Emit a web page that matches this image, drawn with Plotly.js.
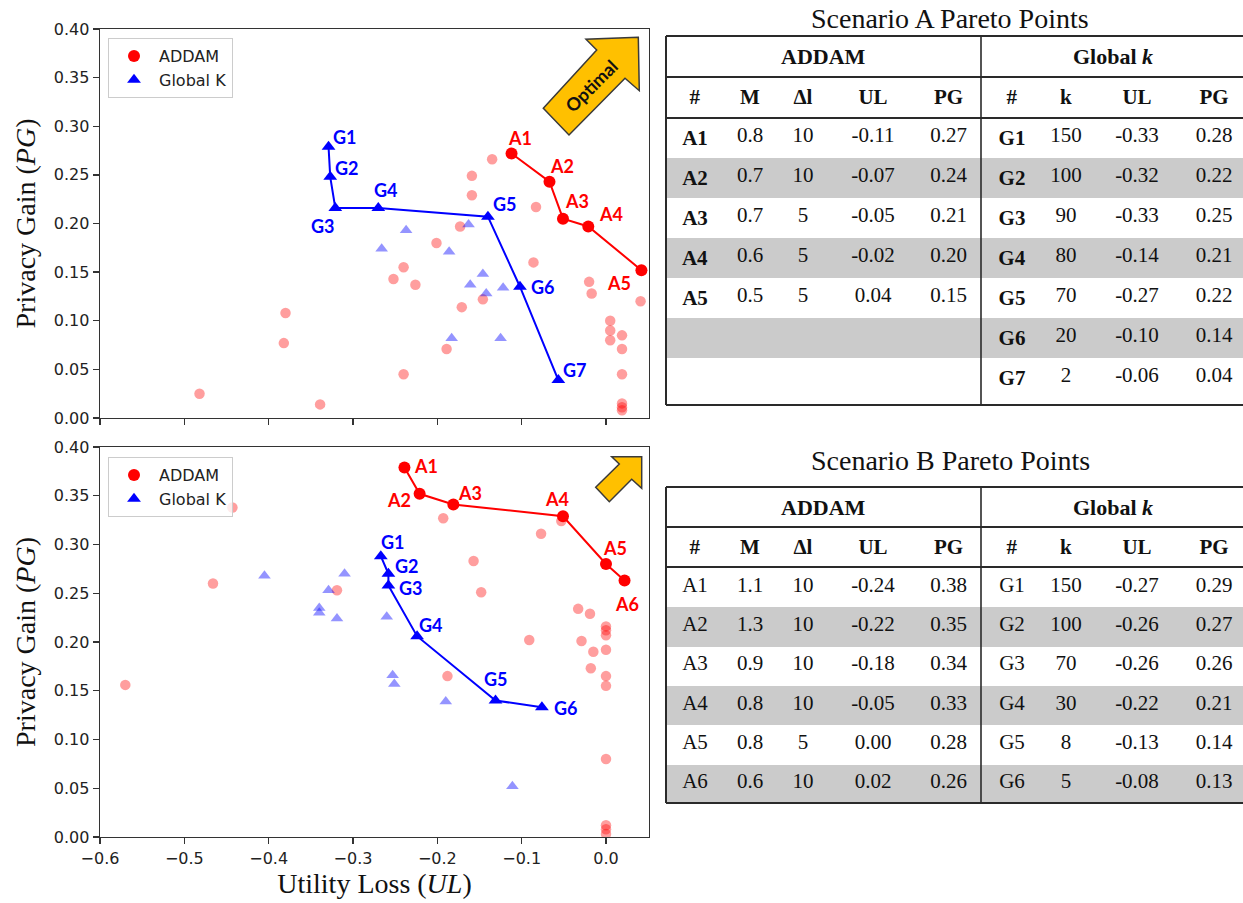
<!DOCTYPE html>
<html><head><meta charset="utf-8">
<script src="https://cdn.plot.ly/plotly-3.0.1.min.js"></script>
<style>html,body{margin:0;padding:0;background:#fff}#chart{width:1243px;height:903px}</style>
</head><body><div id="chart"></div>
<script>
// ---------------- DATA ----------------
// Scenario A (top plot)
const aAddamParetoUL = [-0.112, -0.067, -0.051, -0.021, 0.042];
const aAddamParetoPG = [0.272, 0.243, 0.205, 0.197, 0.152];
const aAddamParetoLbl = ['A1', 'A2', 'A3', 'A4', 'A5'];
const aGlobalParetoUL = [-0.329, -0.327, -0.321, -0.270, -0.140, -0.102, -0.0565];
const aGlobalParetoPG = [0.279, 0.248, 0.216, 0.216, 0.207, 0.135, 0.039];
const aGlobalParetoLbl = ['G1', 'G2', 'G3', 'G4', 'G5', 'G6', 'G7'];
const aAddamAllUL = [-0.482, -0.380, -0.382, -0.339, -0.135, -0.159, -0.159, -0.083, -0.173, -0.201, -0.240, -0.252, -0.226, -0.086, -0.171, -0.146, -0.020, -0.017, 0.041, -0.189, -0.240, 0.005, 0.005, 0.005, 0.019, 0.019, 0.019, 0.019, 0.019, 0.019];
const aAddamAllPG = [0.025, 0.108, 0.077, 0.014, 0.266, 0.249, 0.229, 0.217, 0.197, 0.180, 0.155, 0.143, 0.137, 0.160, 0.114, 0.122, 0.140, 0.128, 0.120, 0.071, 0.045, 0.100, 0.090, 0.080, 0.085, 0.071, 0.045, 0.015, 0.011, 0.008];
const aGlobalAllUL = [-0.237, -0.266, -0.186, -0.163, -0.146, -0.161, -0.142, -0.122, -0.183, -0.125];
const aGlobalAllPG = [0.193, 0.174, 0.171, 0.199, 0.148, 0.137, 0.128, 0.134, 0.082, 0.082];

// Scenario B (bottom plot)
const bAddamParetoUL = [-0.239, -0.221, -0.181, -0.051, 0.000, 0.022];
const bAddamParetoPG = [0.379, 0.352, 0.341, 0.329, 0.280, 0.263];
const bAddamParetoLbl = ['A1', 'A2', 'A3', 'A4', 'A5', 'A6'];
const bGlobalParetoUL = [-0.267, -0.258, -0.258, -0.224, -0.131, -0.076];
const bGlobalParetoPG = [0.288, 0.270, 0.258, 0.206, 0.140, 0.133];
const bGlobalParetoLbl = ['G1', 'G2', 'G3', 'G4', 'G5', 'G6'];
const bAddamAllUL = [-0.570, -0.466, -0.443, -0.319, -0.193, -0.077, -0.053, -0.157, -0.148, -0.033, -0.019, -0.091, -0.029, -0.015, -0.018, -0.188, 0, 0, 0, 0, 0, 0, 0, 0, 0, 0];
const bAddamAllPG = [0.156, 0.260, 0.338, 0.253, 0.327, 0.311, 0.324, 0.283, 0.251, 0.234, 0.229, 0.202, 0.201, 0.190, 0.173, 0.165, 0.216, 0.212, 0.207, 0.192, 0.165, 0.155, 0.080, 0.012, 0.008, 0.003];
const bGlobalAllUL = [-0.405, -0.329, -0.340, -0.340, -0.319, -0.310, -0.260, -0.253, -0.251, -0.190, -0.111];
const bGlobalAllPG = [0.268, 0.253, 0.235, 0.230, 0.224, 0.270, 0.226, 0.166, 0.157, 0.139, 0.052];

// Tables
const tableHeaders = ['#', 'M', 'Δl', 'UL', 'PG', '#', 'k', 'UL', 'PG'];
const tAId = ['A1', 'A2', 'A3', 'A4', 'A5'];
const tAM = [0.8, 0.7, 0.7, 0.6, 0.5];
const tADl = [10, 10, 5, 5, 5];
const tAUL = [-0.11, -0.07, -0.05, -0.02, 0.04];
const tAPG = [0.27, 0.24, 0.21, 0.20, 0.15];
const tAGId = ['G1', 'G2', 'G3', 'G4', 'G5', 'G6', 'G7'];
const tAGk = [150, 100, 90, 80, 70, 20, 2];
const tAGUL = [-0.33, -0.32, -0.33, -0.14, -0.27, -0.10, -0.06];
const tAGPG = [0.28, 0.22, 0.25, 0.21, 0.22, 0.14, 0.04];

const tBId = ['A1', 'A2', 'A3', 'A4', 'A5', 'A6'];
const tBM = [1.1, 1.3, 0.9, 0.8, 0.8, 0.6];
const tBDl = [10, 10, 10, 10, 5, 10];
const tBUL = [-0.24, -0.22, -0.18, -0.05, 0.00, 0.02];
const tBPG = [0.38, 0.35, 0.34, 0.33, 0.28, 0.26];
const tBGId = ['G1', 'G2', 'G3', 'G4', 'G5', 'G6'];
const tBGk = [150, 100, 70, 30, 8, 5];
const tBGUL = [-0.27, -0.26, -0.26, -0.22, -0.13, -0.08];
const tBGPG = [0.29, 0.27, 0.26, 0.21, 0.14, 0.13];

// ---------------- LAYOUT HELPERS ----------------
const W = 1243, H = 903;
const PX = x => x / W;
const PY = y => 1 - y / H;
const RED = '#ff0000', BLUE = '#0000ff';
const LBL_FONT = 'Lato, "Open Sans", sans-serif';
const SERIF = '"Liberation Serif", "Times New Roman", serif';

function pad(arr, n) { const o = arr.slice(); while (o.length < n) o.push(''); return o; }
function fmt(arr, d) { return arr.map(v => v.toFixed(d)); }

// label offsets (pixels) for point labels
const aAddamOff = [[8, -15], [13, -16], [14, -18], [23, -12], [-22, 13]];
const aGlobalOff = [[16, -10], [17, -9], [-12, 18], [8, -18], [17, -13], [23, 0], [17, -10]];
const bAddamOff = [[22, -1], [-21, 6], [17, -12], [-6, -17], [9, -16], [2, 23]];
const bGlobalOff = [[12, -14], [19, -8], [23, 3], [14, -11], [0, -22], [24, 1]];

function scenarioTraces(xa, ya, legendId, aUL, aPG, gUL, gPG, apUL, apPG, gpUL, gpPG) {
  return [
    {type: 'scatter', mode: 'markers', x: aUL, y: aPG, xaxis: xa, yaxis: ya, showlegend: false,
     marker: {symbol: 'circle', size: 10.5, color: RED, opacity: 0.38, line: {width: 0}}, hoverinfo: 'x+y'},
    {type: 'scatter', mode: 'markers', x: gUL, y: gPG, xaxis: xa, yaxis: ya, showlegend: false,
     marker: {symbol: 'triangle-up', size: 11, color: BLUE, opacity: 0.42, line: {width: 0}}, hoverinfo: 'x+y'},
    {type: 'scatter', mode: 'lines', x: apUL, y: apPG, xaxis: xa, yaxis: ya, showlegend: false,
     line: {color: RED, width: 2}, hoverinfo: 'skip'},
    {type: 'scatter', mode: 'lines', x: gpUL, y: gpPG, xaxis: xa, yaxis: ya, showlegend: false,
     line: {color: BLUE, width: 2}, hoverinfo: 'skip'},
    {type: 'scatter', mode: 'markers', name: 'ADDAM', x: apUL, y: apPG, xaxis: xa, yaxis: ya, legend: legendId,
     marker: {symbol: 'circle', size: 12, color: RED, line: {width: 0}}},
    {type: 'scatter', mode: 'markers', name: 'Global K', x: gpUL, y: gpPG, xaxis: xa, yaxis: ya, legend: legendId,
     marker: {symbol: 'triangle-up', size: 12, color: BLUE, line: {width: 0}}}
  ];
}

function labelAnns(xr, yr, xs, ys, lbls, offs, color) {
  return lbls.map((t, i) => ({
    xref: xr, yref: yr, x: xs[i], y: ys[i], text: '<b>' + t + '</b>', showarrow: false,
    xanchor: 'center', yanchor: 'middle', xshift: offs[i][0], yshift: -offs[i][1],
    font: {family: LBL_FONT, size: 18, color: color}
  }));
}

function tableTrace(yTopPx, yBotPx, rowH, cols, nRows) {
  const fills = cols.map(() => Array.from({length: nRows}, (_, r) => r % 2 === 1 ? '#cbcbcb' : '#ffffff'));
  return {
    type: 'table',
    domain: {x: [PX(666), 1], y: [PY(yBotPx), PY(yTopPx)]},
    columnwidth: [58, 52, 54, 86, 65, 62, 46, 96, 58],
    header: {values: tableHeaders.map(h => '<b>' + h + '</b>'), height: 41, align: 'center',
             fill: {color: '#ffffff'}, line: {color: 'rgba(0,0,0,0)', width: 0},
             font: {family: SERIF, size: 21, color: '#111'}},
    cells: {values: cols, height: rowH, align: 'center',
            fill: {color: fills}, line: {color: 'rgba(0,0,0,0)', width: 0},
            font: {family: SERIF, size: 21, color: '#111'}}
  };
}

const nA = 7, nB = 6;
const colsA = [
  pad(tAId.map(s => '<b>' + s + '</b>'), nA), pad(fmt(tAM, 1), nA), pad(tADl.map(String), nA),
  pad(fmt(tAUL, 2), nA), pad(fmt(tAPG, 2), nA),
  tAGId.map(s => '<b>' + s + '</b>'), tAGk.map(String), fmt(tAGUL, 2), fmt(tAGPG, 2)
];
const colsB = [
  tBId, fmt(tBM, 1), tBDl.map(String), fmt(tBUL, 2), fmt(tBPG, 2),
  tBGId, tBGk.map(String), fmt(tBGUL, 2), fmt(tBGPG, 2)
];

const data = [].concat(
  scenarioTraces('x', 'y', 'legend', aAddamAllUL, aAddamAllPG, aGlobalAllUL, aGlobalAllPG,
                 aAddamParetoUL, aAddamParetoPG, aGlobalParetoUL, aGlobalParetoPG),
  scenarioTraces('x2', 'y2', 'legend2', bAddamAllUL, bAddamAllPG, bGlobalAllUL, bGlobalAllPG,
                 bAddamParetoUL, bAddamParetoPG, bGlobalParetoUL, bGlobalParetoPG),
  [tableTrace(77, 405, 40, colsA, nA), tableTrace(527, 806, 39.3, colsB, nB)]
);

// ---------------- SHAPES ----------------
function pathPx(pts) {
  return 'M ' + pts.map(p => PX(p[0]).toFixed(5) + ',' + PY(p[1]).toFixed(5)).join(' L ') + ' Z';
}
const arrowTop = [[638.3, 37.3], [586, 39.3], [596.7, 50], [543.3, 108.3], [569, 135], [625, 78.3], [639.3, 90.7]];
const arrowBot = [[641.7, 456.7], [611.7, 456.7], [619.3, 464], [595.7, 487.3], [609.3, 501.7], [631.7, 479.3], [641.7, 488.3]];

function lineShape(x0, y0, x1, y1, w) {
  return {type: 'line', xref: 'paper', yref: 'paper', x0: PX(x0), y0: PY(y0), x1: PX(x1), y1: PY(y1),
          line: {color: '#2a2a2a', width: w}, layer: 'above'};
}
function tableFrame(top, l1, l2, bot) {
  return [
    lineShape(666, top, 1260, top, 2), lineShape(666, bot, 1260, bot, 2),
    lineShape(666, top, 666, bot, 2), lineShape(981, top, 981, bot, 1.6),
    lineShape(666, l1, 1260, l1, 2.2), lineShape(666, l2, 1260, l2, 2.2)
  ];
}

const shapes = [
  {type: 'path', xref: 'paper', yref: 'paper', path: pathPx(arrowTop), fillcolor: '#FFC000',
   line: {color: '#3a3a3a', width: 1.5}, layer: 'above'},
  {type: 'path', xref: 'paper', yref: 'paper', path: pathPx(arrowBot), fillcolor: '#FFC000',
   line: {color: '#3a3a3a', width: 1.5}, layer: 'above'}
].concat(tableFrame(36, 77, 118, 405), tableFrame(487, 527, 567, 803));

// ---------------- ANNOTATIONS ----------------
const annotations = [].concat(
  labelAnns('x', 'y', aAddamParetoUL, aAddamParetoPG, aAddamParetoLbl, aAddamOff, RED),
  labelAnns('x', 'y', aGlobalParetoUL, aGlobalParetoPG, aGlobalParetoLbl, aGlobalOff, BLUE),
  labelAnns('x2', 'y2', bAddamParetoUL, bAddamParetoPG, bAddamParetoLbl, bAddamOff, RED),
  labelAnns('x2', 'y2', bGlobalParetoUL, bGlobalParetoPG, bGlobalParetoLbl, bGlobalOff, BLUE),
  [
    {xref: 'paper', yref: 'paper', x: PX(591), y: PY(86), text: '<b>Optimal</b>', showarrow: false,
     textangle: -45, xanchor: 'center', yanchor: 'middle', font: {family: LBL_FONT, size: 18, color: '#111'}},
    {xref: 'paper', yref: 'paper', x: PX(950), y: PY(18), text: 'Scenario A Pareto Points', showarrow: false,
     xanchor: 'center', yanchor: 'middle', font: {family: SERIF, size: 28, color: '#111'}},
    {xref: 'paper', yref: 'paper', x: PX(950), y: PY(460), text: 'Scenario B Pareto Points', showarrow: false,
     xanchor: 'center', yanchor: 'middle', font: {family: SERIF, size: 28, color: '#111'}},
    {xref: 'paper', yref: 'paper', x: PX(823), y: PY(57), text: '<b>ADDAM</b>', showarrow: false,
     xanchor: 'center', yanchor: 'middle', font: {family: SERIF, size: 22, color: '#111'}},
    {xref: 'paper', yref: 'paper', x: PX(1113), y: PY(57), text: '<b>Global <i>k</i></b>', showarrow: false,
     xanchor: 'center', yanchor: 'middle', font: {family: SERIF, size: 22, color: '#111'}},
    {xref: 'paper', yref: 'paper', x: PX(823), y: PY(507), text: '<b>ADDAM</b>', showarrow: false,
     xanchor: 'center', yanchor: 'middle', font: {family: SERIF, size: 22, color: '#111'}},
    {xref: 'paper', yref: 'paper', x: PX(1113), y: PY(507), text: '<b>Global <i>k</i></b>', showarrow: false,
     xanchor: 'center', yanchor: 'middle', font: {family: SERIF, size: 22, color: '#111'}}
  ]
);

// ---------------- AXES ----------------
const tickFont = {family: 'DejaVu Sans', size: 16, color: '#222'};
const axisCommon = {showline: true, linecolor: '#333', linewidth: 1.4, mirror: true, ticks: 'outside',
                    ticklen: 6, tickwidth: 1.4, tickcolor: '#333', showgrid: false, zeroline: false,
                    tickfont: tickFont};
const xDomain = [PX(100), PX(649)];
const xRange = [-0.6, 0.051];
const yTitleFont = {family: SERIF, size: 28, color: '#111'};

const layout = {
  width: W, height: H, autosize: false,
  margin: {l: 0, r: 0, t: 0, b: 0, pad: 0},
  paper_bgcolor: '#fff', plot_bgcolor: '#fff',
  font: {family: 'DejaVu Sans', color: '#222'},
  showlegend: true,
  xaxis: Object.assign({}, axisCommon, {domain: xDomain, range: xRange, anchor: 'y', tick0: -0.6, dtick: 0.1,
          showticklabels: false}),
  yaxis: Object.assign({}, axisCommon, {domain: [PY(418), PY(29)], range: [0, 0.40], anchor: 'x', dtick: 0.05,
          tickformat: '.2f', title: {text: 'Privacy Gain (<i>PG</i>)', font: yTitleFont, standoff: 10}}),
  xaxis2: Object.assign({}, axisCommon, {domain: xDomain, range: xRange, anchor: 'y2', tick0: -0.6, dtick: 0.1,
          tickformat: '.1f', title: {text: 'Utility Loss (<i>UL</i>)', font: yTitleFont, standoff: 4}}),
  yaxis2: Object.assign({}, axisCommon, {domain: [PY(837), PY(447)], range: [0, 0.40], anchor: 'x2', dtick: 0.05,
          tickformat: '.2f', title: {text: 'Privacy Gain (<i>PG</i>)', font: yTitleFont, standoff: 10}}),
  legend: {x: PX(108), y: PY(38), xanchor: 'left', yanchor: 'top', bgcolor: 'rgba(255,255,255,0.8)',
           bordercolor: '#cccccc', borderwidth: 1, itemwidth: 40,
           font: {family: 'DejaVu Sans', size: 16, color: '#222'}},
  legend2: {x: PX(108), y: PY(457), xanchor: 'left', yanchor: 'top', bgcolor: 'rgba(255,255,255,0.8)',
            bordercolor: '#cccccc', borderwidth: 1, itemwidth: 40,
            font: {family: 'DejaVu Sans', size: 16, color: '#222'}},
  shapes: shapes,
  annotations: annotations
};

Plotly.newPlot('chart', data, layout, {displayModeBar: false, staticPlot: true});
</script>
</body></html>
